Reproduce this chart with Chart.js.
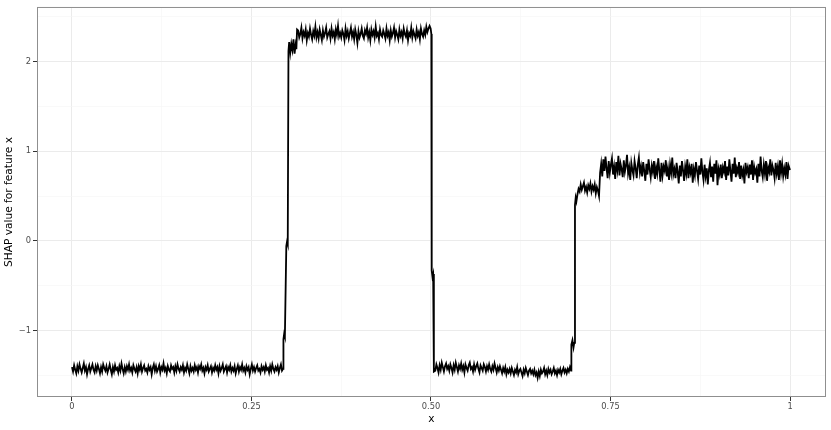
<!DOCTYPE html>
<html>
<head>
<meta charset="utf-8">
<script src="https://cdn.jsdelivr.net/npm/chart.js@4/dist/chart.umd.min.js"></script>
<style>
  html, body { margin: 0; padding: 0; background: #fff; }
  canvas { display: block; }
</style>
</head>
<body>
<canvas id="shapChart" width="831" height="430"></canvas>
<script>
// SHAP dependence values, one block per stretch of the curve
const lowStartX = [0,0.0015,0.003,0.0045,0.006,0.0075,0.009,0.0105,0.012,0.0135,
  0.015,0.0165,0.018,0.0195,0.021,0.0225,0.024,0.0255,0.027,0.0285,
  0.03,0.0315,0.033,0.0345,0.036,0.0375,0.039,0.0405,0.042,0.0435,
  0.045,0.0465,0.048,0.0495,0.051,0.0525,0.054,0.0555,0.057,0.0585,
  0.06,0.0615,0.063,0.0645,0.066,0.0675,0.069,0.0705,0.072,0.0735,
  0.075,0.0765,0.078,0.0795,0.081,0.0825,0.084,0.0855,0.087,0.0885,
  0.09,0.0915,0.093,0.0945,0.096,0.0975,0.099,0.1005,0.102,0.1035,
  0.105,0.1065,0.108,0.1095,0.111,0.1125,0.114,0.1155,0.117,0.1185,
  0.12,0.1215,0.123,0.1245,0.126,0.1275,0.129,0.1305,0.132,0.1335,
  0.135,0.1365,0.138,0.1395,0.141,0.1425,0.144,0.1455,0.147,0.1485,
  0.15,0.1515,0.153,0.1545,0.156,0.1575,0.159,0.1605,0.162,0.1635,
  0.165,0.1665,0.168,0.1695,0.171,0.1725,0.174,0.1755,0.177,0.1785,
  0.18,0.1815,0.183,0.1845,0.186,0.1875,0.189,0.1905,0.192,0.1935,
  0.195,0.1965,0.198,0.1995,0.201,0.2025,0.204,0.2055,0.207,0.2085,
  0.21,0.2115,0.213,0.2145,0.216,0.2175,0.219,0.2205,0.222,0.2235,
  0.225,0.2265,0.228,0.2295,0.231,0.2325,0.234,0.2355,0.237,0.2385,
  0.24,0.2415,0.243,0.2445,0.246,0.2475,0.249,0.2505,0.252,0.2535,
  0.255,0.2565,0.258,0.2595,0.261,0.2625,0.264,0.2655,0.267,0.2685,
  0.27,0.2715,0.273,0.2745,0.276,0.2775,0.279,0.2805,0.282,0.2835,
  0.285,0.2865,0.288,0.2895,0.291,0.2925,0.294];
const lowStartY = [-1.41,-1.46,-1.39,-1.44,-1.48,-1.40,-1.45,-1.38,-1.43,-1.47,
  -1.42,-1.37,-1.45,-1.41,-1.49,-1.43,-1.39,-1.46,-1.42,-1.38,
  -1.44,-1.47,-1.40,-1.45,-1.39,-1.43,-1.48,-1.41,-1.46,-1.38,
  -1.42,-1.45,-1.40,-1.47,-1.43,-1.38,-1.44,-1.49,-1.41,-1.46,
  -1.39,-1.44,-1.42,-1.47,-1.40,-1.45,-1.37,-1.43,-1.48,-1.41,
  -1.46,-1.40,-1.44,-1.38,-1.45,-1.42,-1.47,-1.39,-1.43,-1.46,
  -1.41,-1.48,-1.40,-1.44,-1.38,-1.46,-1.42,-1.39,-1.45,-1.43,
  -1.47,-1.40,-1.44,-1.41,-1.49,-1.42,-1.38,-1.45,-1.40,-1.46,
  -1.43,-1.39,-1.47,-1.41,-1.44,-1.37,-1.45,-1.42,-1.48,-1.40,
  -1.44,-1.46,-1.39,-1.43,-1.41,-1.47,-1.40,-1.45,-1.38,-1.43,
  -1.46,-1.41,-1.44,-1.39,-1.47,-1.42,-1.45,-1.38,-1.43,-1.48,
  -1.40,-1.45,-1.42,-1.46,-1.39,-1.44,-1.41,-1.47,-1.40,-1.43,
  -1.38,-1.45,-1.42,-1.48,-1.41,-1.44,-1.39,-1.46,-1.43,-1.40,
  -1.47,-1.42,-1.45,-1.39,-1.44,-1.41,-1.48,-1.40,-1.45,-1.42,
  -1.38,-1.46,-1.43,-1.40,-1.47,-1.41,-1.44,-1.39,-1.46,-1.42,
  -1.45,-1.40,-1.48,-1.43,-1.39,-1.46,-1.41,-1.44,-1.38,-1.45,
  -1.42,-1.47,-1.40,-1.44,-1.41,-1.49,-1.43,-1.38,-1.45,-1.41,
  -1.46,-1.42,-1.39,-1.45,-1.43,-1.47,-1.40,-1.44,-1.41,-1.46,
  -1.39,-1.44,-1.42,-1.47,-1.40,-1.45,-1.38,-1.43,-1.46,-1.41,
  -1.44,-1.40,-1.47,-1.42,-1.38,-1.45,-1.43];

const riseX = [0.2945,0.2955,0.2965,0.2985,0.2995,0.3005,0.3015,0.3025,0.304,0.3055,0.307,0.3085,0.31,0.3115,0.3125,0.3135];
const riseY = [-1.10,-1.04,-1.07,-0.06,-0.01,-0.04,2.12,2.22,2.10,2.20,2.13,2.25,2.09,2.19,2.14,2.36];

const highX = [0.315,0.3165,0.318,0.3195,0.321,0.3225,0.324,0.3255,0.327,0.3285,
  0.33,0.3315,0.333,0.3345,0.336,0.3375,0.339,0.3405,0.342,0.3435,
  0.345,0.3465,0.348,0.3495,0.351,0.3525,0.354,0.3555,0.357,0.3585,
  0.36,0.3615,0.363,0.3645,0.366,0.3675,0.369,0.3705,0.372,0.3735,
  0.375,0.3765,0.378,0.3795,0.381,0.3825,0.384,0.3855,0.387,0.3885,
  0.39,0.3915,0.393,0.3945,0.396,0.3975,0.399,0.4005,0.402,0.4035,
  0.405,0.4065,0.408,0.4095,0.411,0.4125,0.414,0.4155,0.417,0.4185,
  0.42,0.4215,0.423,0.4245,0.426,0.4275,0.429,0.4305,0.432,0.4335,
  0.435,0.4365,0.438,0.4395,0.441,0.4425,0.444,0.4455,0.447,0.4485,
  0.45,0.4515,0.453,0.4545,0.456,0.4575,0.459,0.4605,0.462,0.4635,
  0.465,0.4665,0.468,0.4695,0.471,0.4725,0.474,0.4755,0.477,0.4785,
  0.48,0.4815,0.483,0.4845,0.486,0.4875,0.489,0.4905,0.492,0.4935,
  0.495,0.4965,0.498];
const highY = [2.35,2.27,2.31,2.38,2.26,2.33,2.29,2.36,2.24,2.32,
  2.28,2.37,2.30,2.25,2.34,2.29,2.39,2.27,2.33,2.26,
  2.36,2.30,2.24,2.35,2.28,2.32,2.38,2.27,2.31,2.34,
  2.26,2.37,2.29,2.33,2.25,2.36,2.30,2.40,2.28,2.32,
  2.27,2.35,2.31,2.24,2.37,2.29,2.34,2.26,2.32,2.38,
  2.28,2.33,2.25,2.36,2.30,2.21,2.34,2.27,2.31,2.37,
  2.29,2.26,2.35,2.31,2.38,2.27,2.33,2.24,2.36,2.30,
  2.34,2.27,2.39,2.29,2.32,2.25,2.36,2.30,2.28,2.35,
  2.31,2.26,2.37,2.29,2.33,2.24,2.35,2.28,2.32,2.38,
  2.27,2.34,2.30,2.25,2.36,2.29,2.33,2.26,2.37,2.31,
  2.28,2.35,2.24,2.32,2.29,2.38,2.27,2.34,2.30,2.26,
  2.36,2.29,2.33,2.25,2.37,2.31,2.28,2.35,2.30,2.39,
  2.33,2.37,2.40];

const dropX = [0.4995,0.5005,0.501,0.502,0.503,0.504];
const dropY = [2.37,2.31,-0.33,-0.40,-0.37,-1.46];

const lowMidX = [0.506,0.5075,0.509,0.5105,0.512,0.5135,0.515,0.5165,0.518,0.5195,
  0.521,0.5225,0.524,0.5255,0.527,0.5285,0.53,0.5315,0.533,0.5345,
  0.536,0.5375,0.539,0.5405,0.542,0.5435,0.545,0.5465,0.548,0.5495,
  0.551,0.5525,0.554,0.5555,0.557,0.5585,0.56,0.5615,0.563,0.5645,
  0.566,0.5675,0.569,0.5705,0.572,0.5735,0.575,0.5765,0.578,0.5795,
  0.581,0.5825,0.584,0.5855,0.587,0.5885,0.59,0.5915,0.593,0.5945,
  0.596,0.5975,0.599,0.6005,0.602,0.6035,0.605,0.6065,0.608,0.6095,
  0.611,0.6125,0.614,0.6155,0.617,0.6185,0.62,0.6215,0.623,0.6245,
  0.626,0.6275,0.629,0.6305,0.632,0.6335,0.635,0.6365,0.638,0.6395,
  0.641,0.6425,0.644,0.6455,0.647,0.6485,0.65,0.6515,0.653,0.6545,
  0.656,0.6575,0.659,0.6605,0.662,0.6635,0.665,0.6665,0.668,0.6695,
  0.671,0.6725,0.674,0.6755,0.677,0.6785,0.68,0.6815,0.683,0.6845,
  0.686,0.6875,0.689,0.6905,0.692,0.6935,0.695];
const lowMidY = [-1.45,-1.38,-1.42,-1.47,-1.39,-1.44,-1.36,-1.41,-1.46,-1.40,
  -1.37,-1.43,-1.40,-1.45,-1.38,-1.42,-1.47,-1.39,-1.44,-1.36,
  -1.41,-1.46,-1.39,-1.43,-1.37,-1.44,-1.40,-1.47,-1.38,-1.42,
  -1.45,-1.39,-1.36,-1.43,-1.41,-1.46,-1.38,-1.44,-1.40,-1.37,
  -1.43,-1.47,-1.39,-1.42,-1.45,-1.38,-1.41,-1.46,-1.40,-1.44,
  -1.38,-1.43,-1.46,-1.40,-1.44,-1.37,-1.42,-1.47,-1.41,-1.45,
  -1.40,-1.44,-1.48,-1.42,-1.46,-1.41,-1.49,-1.44,-1.47,-1.43,
  -1.48,-1.42,-1.46,-1.50,-1.44,-1.47,-1.41,-1.49,-1.45,-1.43,
  -1.47,-1.51,-1.44,-1.48,-1.42,-1.46,-1.50,-1.45,-1.43,-1.48,
  -1.45,-1.49,-1.44,-1.50,-1.47,-1.53,-1.46,-1.51,-1.44,-1.48,
  -1.46,-1.42,-1.49,-1.45,-1.50,-1.43,-1.47,-1.44,-1.49,-1.46,
  -1.42,-1.48,-1.45,-1.50,-1.44,-1.47,-1.43,-1.49,-1.45,-1.42,
  -1.47,-1.44,-1.48,-1.43,-1.46,-1.41,-1.45];

const stepX = [0.6955,0.697,0.6985,0.6995,0.7005,0.7015,0.7025];
const stepY = [-1.16,-1.11,-1.19,-1.14,0.40,0.48,0.44];

const shelfX = [0.704,0.7055,0.707,0.7085,0.71,0.7115,0.713,0.7145,0.716,0.7175,
  0.719,0.7205,0.722,0.7235,0.725,0.7265,0.728,0.7295,0.731,0.7325,0.734,0.7355];
const shelfY = [0.52,0.58,0.55,0.63,0.57,0.61,0.65,0.56,0.60,0.54,
  0.62,0.58,0.64,0.55,0.61,0.57,0.63,0.53,0.60,0.56,0.50,0.76];

const topX = [0.737,0.7385,0.74,0.7415,0.743,0.7445,0.746,0.7475,0.749,0.7505,
  0.752,0.7535,0.755,0.7565,0.758,0.7595,0.761,0.7625,0.764,0.7655,
  0.767,0.7685,0.77,0.7715,0.773,0.7745,0.776,0.7775,0.779,0.7805,
  0.782,0.7835,0.785,0.7865,0.788,0.7895,0.791,0.7925,0.794,0.7955,
  0.797,0.7985,0.8,0.8015,0.803,0.8045,0.806,0.8075,0.809,0.8105,
  0.812,0.8135,0.815,0.8165,0.818,0.8195,0.821,0.8225,0.824,0.8255,
  0.827,0.8285,0.83,0.8315,0.833,0.8345,0.836,0.8375,0.839,0.8405,
  0.842,0.8435,0.845,0.8465,0.848,0.8495,0.851,0.8525,0.854,0.8555,
  0.857,0.8585,0.86,0.8615,0.863,0.8645,0.866,0.8675,0.869,0.8705,
  0.872,0.8735,0.875,0.8765,0.878,0.8795,0.881,0.8825,0.884,0.8855,
  0.887,0.8885,0.89,0.8915,0.893,0.8945,0.896,0.8975,0.899,0.9005,
  0.902,0.9035,0.905,0.9065,0.908,0.9095,0.911,0.9125,0.914,0.9155,
  0.917,0.9185,0.92,0.9215,0.923,0.9245,0.926,0.9275,0.929,0.9305,
  0.932,0.9335,0.935,0.9365,0.938,0.9395,0.941,0.9425,0.944,0.9455,
  0.947,0.9485,0.95,0.9515,0.953,0.9545,0.956,0.9575,0.959,0.9605,
  0.962,0.9635,0.965,0.9665,0.968,0.9695,0.971,0.9725,0.974,0.9755,
  0.977,0.9785,0.98,0.9815,0.983,0.9845,0.986,0.9875,0.989,0.9905,
  0.992,0.9935,0.995,0.9965,0.998,1];
const topY = [0.86,0.72,0.91,0.78,0.94,0.81,0.70,0.89,0.76,0.85,
  0.92,0.74,0.83,0.69,0.88,0.79,0.95,0.73,0.86,0.80,
  0.71,0.90,0.77,0.84,0.96,0.75,0.82,0.68,0.87,0.79,
  0.73,0.89,0.81,0.70,0.85,0.93,0.76,0.83,0.72,0.88,
  0.78,0.67,0.86,0.74,0.91,0.80,0.71,0.84,0.77,0.89,
  0.69,0.82,0.75,0.92,0.79,0.66,0.87,0.73,0.83,0.78,
  0.90,0.72,0.81,0.68,0.85,0.76,0.93,0.74,0.80,0.70,
  0.87,0.77,0.64,0.84,0.72,0.89,0.79,0.67,0.83,0.75,
  0.91,0.70,0.82,0.76,0.86,0.65,0.80,0.73,0.88,0.78,
  0.69,0.84,0.74,0.92,0.77,0.68,0.85,0.72,0.81,0.63,
  0.79,0.87,0.71,0.83,0.66,0.86,0.75,0.90,0.62,0.80,
  0.74,0.85,0.70,0.82,0.77,0.89,0.68,0.83,0.73,0.91,
  0.78,0.66,0.86,0.75,0.93,0.71,0.81,0.76,0.88,0.69,
  0.84,0.73,0.79,0.64,0.87,0.77,0.82,0.70,0.85,0.74,
  0.90,0.68,0.83,0.76,0.80,0.65,0.86,0.72,0.94,0.78,
  0.71,0.85,0.75,0.89,0.67,0.82,0.77,0.91,0.73,0.84,
  0.79,0.70,0.87,0.75,0.83,0.68,0.90,0.76,0.86,0.72,
  0.81,0.74,0.88,0.69,0.84,0.79];

// axis breaks (major get labels, minor only get a grid line)
const xMajor = [0, 0.25, 0.5, 0.75, 1];
const xLabels = ['0', '0.25', '0.50', '0.75', '1'];
const xMinor = [0.125, 0.375, 0.625, 0.875];
const yMajor = [-1, 0, 1, 2];
const yLabels = ['\u22121', '0', '1', '2'];
const yMinor = [-1.5, -0.5, 0.5, 1.5, 2.5];

const allX = [].concat(lowStartX, riseX, highX, dropX, lowMidX, stepX, shelfX, topX);
const allY = [].concat(lowStartY, riseY, highY, dropY, lowMidY, stepY, shelfY, topY);
const points = allX.map((x, i) => ({ x: x, y: allY[i] }));

const tickFont = { family: 'DejaVu Sans', size: 8.3 };
const titleFont = { family: 'DejaVu Sans', size: 10.6 };

function breaks(major, minor) {
    return major.concat(minor).sort((a, b) => a - b).map(v => ({ value: v }));
}
function isMajor(list, v) {
    return list.some(m => Math.abs(m - v) < 1e-9);
}

// grey frame round the panel, like theme_bw
const panelBorder = {
    id: 'panelBorder',
    afterDraw(chart) {
        const a = chart.chartArea;
        const c = chart.ctx;
        c.save();
        c.strokeStyle = '#8f8f8f';
        c.lineWidth = 1;
        c.strokeRect(a.left + 0.5, a.top + 0.5, a.right - a.left - 1, a.bottom - a.top - 1);
        c.restore();
    }
};

const ctx = document.getElementById('shapChart').getContext('2d');
new Chart(ctx, {
    type: 'line',
    data: {
        datasets: [{
            data: points,
            borderColor: '#000000',
            borderWidth: 1.8,
            pointRadius: 0,
            tension: 0,
            fill: false
        }]
    },
    options: {
        responsive: false,
        animation: false,
        layout: { padding: { top: 5, right: 5, left: 0, bottom: 0 } },
        plugins: {
            legend: { display: false },
            tooltip: { enabled: false }
        },
        scales: {
            x: {
                type: 'linear',
                min: -0.0487,
                max: 1.0501,
                afterBuildTicks: s => { s.ticks = breaks(xMajor, xMinor); },
                afterFit: s => { s.height = 33; },
                border: { display: false },
                grid: {
                    color: c => isMajor(xMajor, c.tick.value) ? '#ebebeb' : '#f5f5f5',
                    lineWidth: c => isMajor(xMajor, c.tick.value) ? 1 : 0.6,
                    tickColor: c => isMajor(xMajor, c.tick.value) ? '#333333' : 'rgba(0,0,0,0)',
                    tickLength: 4
                },
                ticks: {
                    autoSkip: false,
                    maxRotation: 0,
                    padding: 1,
                    color: '#4d4d4d',
                    font: tickFont,
                    callback: v => { const i = xMajor.indexOf(v); return i >= 0 ? xLabels[i] : ''; }
                },
                title: {
                    display: true,
                    text: 'x',
                    color: '#000000',
                    font: titleFont,
                    padding: { top: 0, bottom: 4 }
                }
            },
            y: {
                type: 'linear',
                min: -1.744,
                max: 2.611,
                afterBuildTicks: s => { s.ticks = breaks(yMajor, yMinor); },
                afterFit: s => { s.width = 37; },
                border: { display: false },
                grid: {
                    color: c => isMajor(yMajor, c.tick.value) ? '#ebebeb' : '#f5f5f5',
                    lineWidth: c => isMajor(yMajor, c.tick.value) ? 1 : 0.6,
                    tickColor: c => isMajor(yMajor, c.tick.value) ? '#333333' : 'rgba(0,0,0,0)',
                    tickLength: 4
                },
                ticks: {
                    autoSkip: false,
                    padding: 2,
                    color: '#4d4d4d',
                    font: tickFont,
                    callback: v => { const i = yMajor.indexOf(v); return i >= 0 ? yLabels[i] : ''; }
                },
                title: {
                    display: true,
                    text: 'SHAP value for feature x',
                    color: '#000000',
                    font: titleFont,
                    padding: { top: 3, bottom: 0 }
                }
            }
        }
    },
    plugins: [panelBorder]
});
</script>
</body>
</html>
